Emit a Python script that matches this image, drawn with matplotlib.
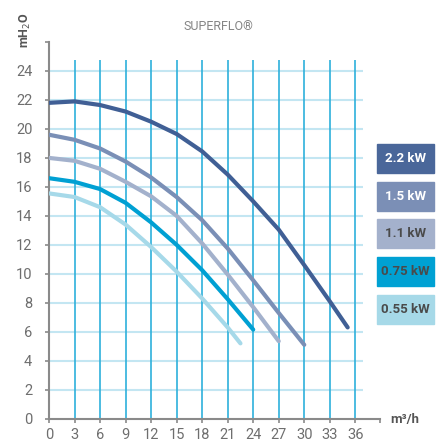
import numpy as np
import matplotlib
matplotlib.use("Agg")
import matplotlib.pyplot as plt

plt.rcParams['font.family'] = ['Roboto', 'DejaVu Sans']

# flow (m3/h) and head (mH2O)
q_22 = [0, 3, 6, 9, 12, 15, 18, 21, 24, 27, 30, 33, 35.1]
h_22 = [21.8, 21.9, 21.65, 21.2, 20.5, 19.65, 18.45, 16.85, 15.0, 13.05, 10.6, 8.1, 6.3]
q_15 = [0, 3, 6, 9, 12, 15, 18, 21, 24, 27, 30]
h_15 = [19.6, 19.25, 18.65, 17.75, 16.65, 15.3, 13.7, 11.75, 9.55, 7.3, 5.1]
q_11 = [0, 3, 6, 9, 12, 15, 18, 21, 24, 27]
h_11 = [18.0, 17.8, 17.25, 16.35, 15.35, 14.0, 12.1, 9.95, 7.7, 5.35]
q_075 = [0, 3, 6, 9, 12, 15, 18, 21, 24]
h_075 = [16.6, 16.35, 15.85, 14.9, 13.55, 12.0, 10.25, 8.25, 6.15]
q_055 = [0, 3, 6, 9, 12, 15, 18, 21, 22.5]
h_055 = [15.55, 15.3, 14.6, 13.4, 11.85, 10.15, 8.3, 6.3, 5.2]

labels = ['2.2 kW', '1.5 kW', '1.1 kW', '0.75 kW', '0.55 kW']
colors = ['#405f95', '#7a8fb6', '#a3b1cc', '#00a0d3', '#a6d9e9']
box_colors = ['#4a679a', '#7b8fb6', '#a4b1cc', '#00a1d3', '#a6d9e8']
text_colors = ['white', 'white', '#4a4a4a', '#4a4a4a', '#4a4a4a']

xticks = list(range(0, 37, 3))
yticks = list(range(0, 25, 2))

fig = plt.figure(figsize=(4.39, 4.41), dpi=100)
ax = fig.add_axes([49/439, 22.3/441, 331/439, 376.7/441])
ax.set_xlim(0, 38.9)
ax.set_ylim(0, 26)

# grid
ax.hlines(yticks[1:], 0, 36.9, color='#c3e6f2', lw=1.5, zorder=1)
ax.vlines(xticks[1:], 0, 24.75, color='#2eb0db', lw=1.2, zorder=1)

series = [(q_22, h_22), (q_15, h_15), (q_11, h_11), (q_075, h_075), (q_055, h_055)]
for (q, h), c in zip(series, colors):
    ax.plot(q, h, color=c, lw=3, solid_capstyle='round', solid_joinstyle='round', zorder=3)

for s in ['top', 'right']:
    ax.spines[s].set_visible(False)
for s in ['left', 'bottom']:
    ax.spines[s].set_color('#8a8a8a')
    ax.spines[s].set_linewidth(1.5)

ax.set_xticks(xticks)
ax.set_yticks(yticks)
ax.set_xticks([38.9], minor=True)
ax.set_yticks([26], minor=True)
ax.tick_params(axis='both', which='both', colors='#8a8a8a', length=3, width=1.2,
               labelcolor='#6e6e6e', labelsize=10.5)
ax.tick_params(axis='x', pad=3.5)
ax.tick_params(axis='y', pad=9)

fig.text(218/439, 1 - 27/441, 'SUPERFLO®', ha='center', va='center', color='#858585',
         fontsize=9)
fig.text(25.5/439, 1 - 30/441, 'mH$_2$O', ha='center', va='center', rotation=90, color='#555555',
         fontsize=9, fontweight='bold')
fig.text(405/439, 1 - 419/441, 'm³/h', ha='center', va='center', color='#555555', fontsize=9.5,
         fontweight='bold')

# power boxes
box_tops = [144, 182, 219, 257, 295]
for top, lab, bc, tc in zip(box_tops, labels, box_colors, text_colors):
    fig.patches.append(plt.Rectangle((377/439, 1 - (top + 29)/441), 57/439, 29/441,
                                     transform=fig.transFigure, color=bc, zorder=0))
    fig.text(405.5/439, 1 - (top + 14.5)/441, lab, ha='center', va='center', color=tc,
             fontsize=9.5, fontweight='bold')

fig.savefig('out.png', dpi=100)
